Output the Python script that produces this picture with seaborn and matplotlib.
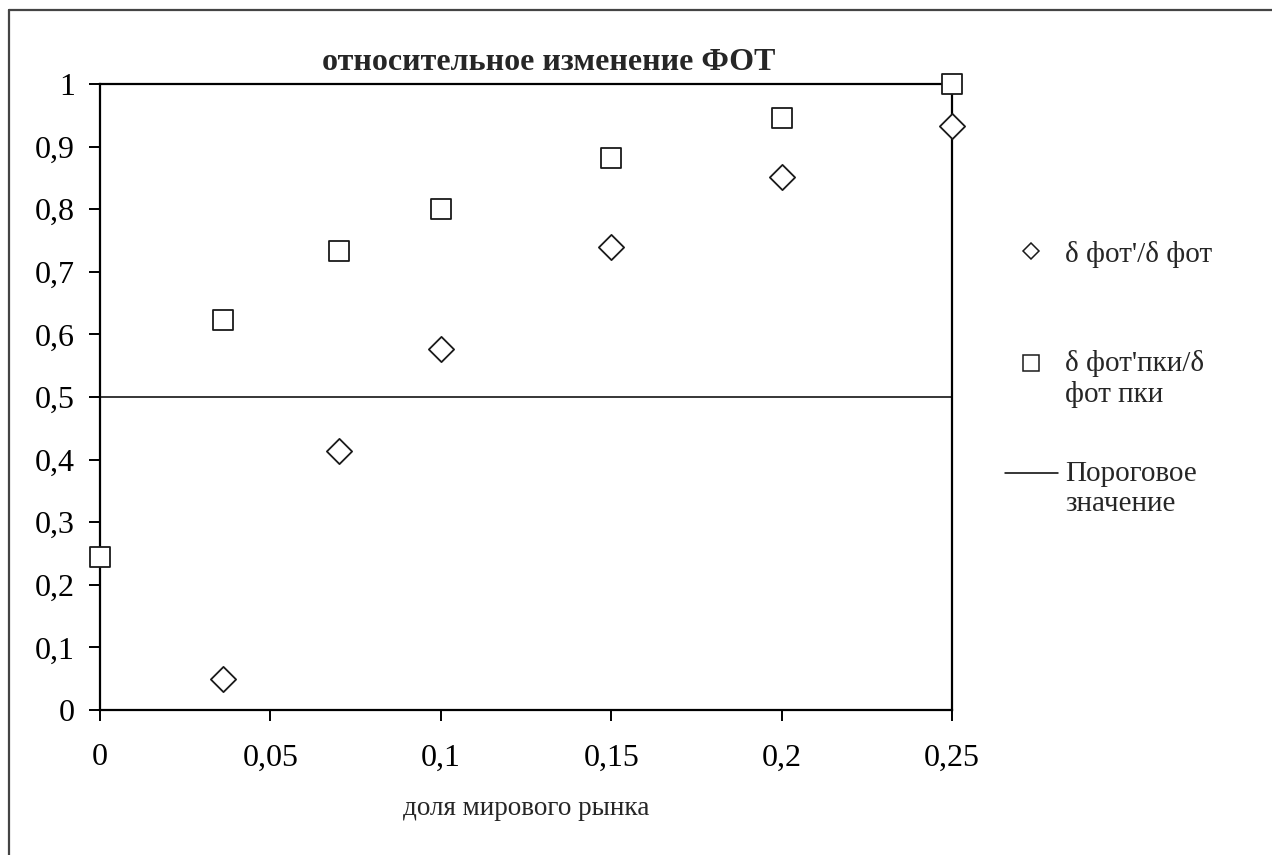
import matplotlib
matplotlib.use('Agg')
import matplotlib.pyplot as plt
import seaborn as sns
import pandas as pd
from matplotlib.lines import Line2D
from matplotlib.legend_handler import HandlerLine2D

# data
share_d = [0.036, 0.07, 0.1, 0.15, 0.2, 0.25]
ratio_fot = [0.05, 0.414, 0.577, 0.740, 0.851, 0.933]

share_s = [0.0, 0.036, 0.07, 0.1, 0.15, 0.2, 0.25]
ratio_fot_pki = [0.244, 0.623, 0.733, 0.800, 0.882, 0.946, 1.0]

threshold_x = [0.0, 0.25]
threshold_y = [0.5, 0.5]

x_ticks = [0, 0.05, 0.1, 0.15, 0.2, 0.25]
x_labels = ['0', '0,05', '0,1', '0,15', '0,2', '0,25']
y_ticks = [i / 10 for i in range(11)]
y_labels = ['0'] + ['0,' + str(i) for i in range(1, 10)] + ['1']


class RaisedHandler(HandlerLine2D):
    # legend handle lifted by dy points (to sit on the first line of a 2-line label)
    def __init__(self, dy=0.0, **kw):
        super().__init__(**kw)
        self.dy = dy

    def create_artists(self, legend, orig_handle, xdescent, ydescent, width, height,
                       fontsize, trans):
        return super().create_artists(legend, orig_handle, xdescent, ydescent - 2 * self.dy,
                                      width, height, fontsize, trans)


sns.set_theme(style='white')
plt.rcParams['font.family'] = ['Liberation Serif', 'DejaVu Serif']

W, H = 1272, 855
fig = plt.figure(figsize=(W / 100, H / 100), dpi=100)
ax = fig.add_axes([100 / W, 1 - 710 / H, 852 / W, 626 / H])

df_d = pd.DataFrame({'x': share_d, 'y': ratio_fot})
df_s = pd.DataFrame({'x': share_s, 'y': ratio_fot_pki})
df_t = pd.DataFrame({'x': threshold_x, 'y': threshold_y})

sns.scatterplot(data=df_d, x='x', y='y', marker='D', s=165, facecolor='white',
                edgecolor='#1a1a1a', linewidth=1.3, clip_on=False, zorder=4, ax=ax)
sns.scatterplot(data=df_s, x='x', y='y', marker='s', s=210, facecolor='white',
                edgecolor='#1a1a1a', linewidth=1.3, clip_on=False, zorder=4, ax=ax)
sns.lineplot(data=df_t, x='x', y='y', color='black', linewidth=1.1, ax=ax, zorder=3)

ax.set_xlim(0, 0.25)
ax.set_ylim(0, 1)
ax.set_xticks(x_ticks)
ax.set_xticklabels(x_labels)
ax.set_yticks(y_ticks)
ax.set_yticklabels(y_labels)
ax.tick_params(axis='both', direction='out', length=8, width=1.4, colors='black',
               labelsize=23, bottom=True, left=True)
ax.tick_params(axis='x', pad=16)
ax.tick_params(axis='y', pad=10)
for sp in ax.spines.values():
    sp.set_color('black')
    sp.set_linewidth(1.6)

ax.set_xlabel('доля мирового рынка', fontsize=19.5, labelpad=17)
ax.set_ylabel('')
ax.set_title('относительное изменение ФОТ', fontsize=23, fontweight='bold',
             pad=10, x=(549 - 100) / 852)

# legend: one block per entry, placed like the reference
h_d = Line2D([], [], marker='D', linestyle='none', markersize=8.5, markerfacecolor='white',
             markeredgecolor='#1a1a1a', markeredgewidth=1.1)
h_s = Line2D([], [], marker='s', linestyle='none', markersize=11.5, markerfacecolor='white',
             markeredgecolor='#1a1a1a', markeredgewidth=1.1)
h_t = Line2D([], [], color='black', linewidth=1.1)
entries = [
    (h_d, "δ фот'/δ фот", 254, 0.0),
    (h_s, "δ фот'пки/δ\nфот пки", 379, 11.5),
    (h_t, "Пороговое\nзначение", 489, 11.5),
]
for handle, label, yc, dy in entries:
    leg = fig.legend([handle], [label], loc='center left',
                     bbox_to_anchor=(1005 / W, 1 - yc / H), bbox_transform=fig.transFigure,
                     frameon=False, fontsize=21, handlelength=1.8, handletextpad=0.25,
                     borderpad=0, borderaxespad=0,
                     handler_map={handle: RaisedHandler(dy=dy)})

# outer chart border (top and left edges visible in the reference)
fig.add_artist(Line2D([9 / W, 9 / W], [0, 1 - 10 / H], transform=fig.transFigure,
                      color='#444444', linewidth=1.6))
fig.add_artist(Line2D([9 / W, 1], [1 - 10 / H, 1 - 10 / H], transform=fig.transFigure,
                      color='#444444', linewidth=1.6))

fig.savefig('out.png', dpi=100, facecolor='white')
